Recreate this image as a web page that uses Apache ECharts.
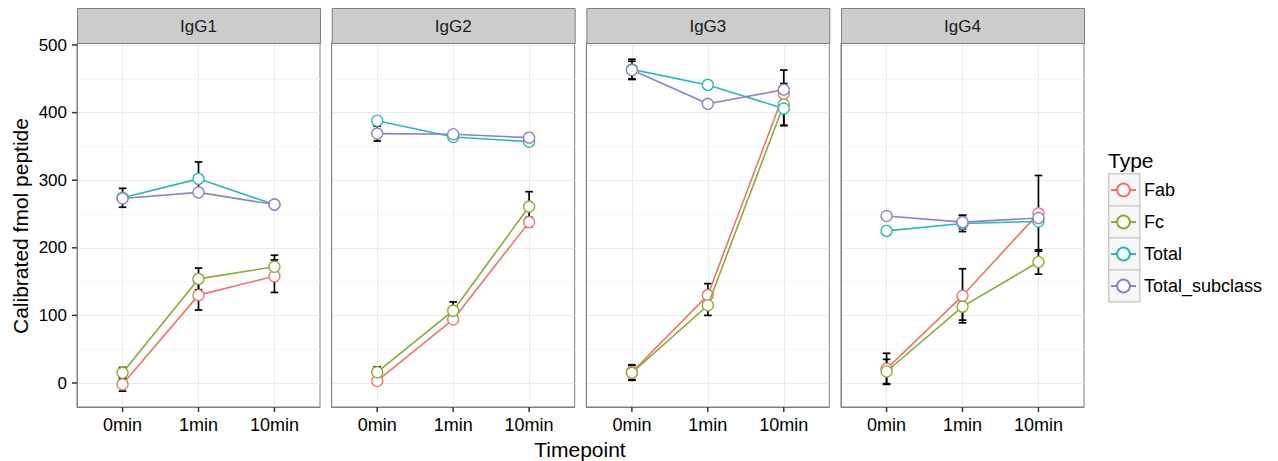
<!DOCTYPE html>
<html><head><meta charset="utf-8">
<script src="https://cdn.jsdelivr.net/npm/echarts@6/dist/echarts.min.js"></script>
<style>html,body{margin:0;padding:0;background:#fff}#c{width:1278px;height:461px}</style>
</head><body><div id="c"></div>
<script>
const panels = ['IgG1', 'IgG2', 'IgG3', 'IgG4'];
const timepoints = ['0min', '1min', '10min'];
const types = ['Fab', 'Fc', 'Total', 'Total_subclass'];
const yTicks = [0, 100, 200, 300, 400, 500];
const yMinorTicks = [50, 150, 250, 350, 450];

// values per panel (IgG1..IgG4), per timepoint (0min, 1min, 10min)
const fabValues = [[-2, 130, 158], [3, 94, 238], [16, 130, 428], [21, 129, 251]];
const fabErrors = [[10, 22, 24], [3, 3, 7], [11, 17, 10], [23, 40, 56]];
const fcValues = [[15, 154, 172], [16, 107, 261], [15, 115, 412], [17, 113, 179]];
const fcErrors = [[8, 16, 17], [8, 13, 22], [11, 15, 31], [18, 20, 18]];
const totalValues = [[274, 302, 264], [388, 364, 357], [464, 441, 406], [225, 236, 239]];
const totalErrors = [[14, 25, 2], [3, 3, 5], [15, 5, 25], [6, 12, 5]];
const subclassValues = [[273, 282, 264], [369, 368, 363], [463, 413, 434], [247, 238, 244]];
const subclassErrors = [[3, 3, 2], [11, 3, 6], [13, 3, 29], [3, 10, 4]];

const typeValues = [fabValues, fcValues, totalValues, subclassValues];
const typeErrors = [fabErrors, fcErrors, totalErrors, subclassErrors];
const typeColors = ['#EC756B', '#84AD35', '#2DB6BA', '#8D82C2'];

const FONT = '"Liberation Sans", Arial, Helvetica, sans-serif';
const panelLeft0 = 77, panelStep = 254.67, panelW = 243, panelTop = 43, panelH = 364;
const stripTop = 8, stripH = 35;
const yMin = -35.5, yMax = 503;
const xMin = 0.4, xMax = 3.6;
const xPos = timepoints.map((t, i) => i + 1);
const TICK = '#333333', TICK_LEN = 5;

const grids = [], xAxes = [], yAxes = [], series = [], graphics = [];

panels.forEach((p, pi) => {
  const left = panelLeft0 + pi * panelStep;
  grids.push({left: left, top: panelTop, width: panelW, height: panelH,
    show: true, borderColor: '#7f7f7f', borderWidth: 1, backgroundColor: '#fff'});
  xAxes.push({type: 'value', gridIndex: pi, min: xMin, max: xMax,
    axisLine: {show: true, onZero: false, lineStyle: {color: '#7f7f7f', width: 1}},
    axisTick: {show: false, customValues: xPos},
    axisLabel: {show: true, customValues: xPos, margin: 9, fontSize: 18, color: '#000', fontFamily: FONT,
      formatter: v => timepoints[Math.round(v) - 1] || ''},
    splitLine: {show: true, lineStyle: {color: '#ebebeb', width: 1}}
  });
  const yi = yAxes.length;
  yAxes.push({type: 'value', gridIndex: pi, min: yMin, max: yMax,
    axisLine: {show: true, onZero: false, lineStyle: {color: '#7f7f7f', width: 1}},
    axisTick: {show: false, customValues: yTicks},
    axisLabel: {show: pi === 0, customValues: yTicks, margin: 10, fontSize: 17, color: '#000', fontFamily: FONT},
    splitLine: {show: true, lineStyle: {color: '#ebebeb', width: 1}}
  });
  // minor grid lines (hidden axis)
  yAxes.push({type: 'value', gridIndex: pi, min: yMin, max: yMax, position: 'right',
    axisLine: {show: false, onZero: false},
    axisTick: {show: false, customValues: yMinorTicks},
    axisLabel: {show: false, customValues: yMinorTicks},
    splitLine: {show: true, lineStyle: {color: '#f5f5f5', width: 1}}
  });
  // facet strip
  graphics.push({type: 'rect', left: left, top: stripTop, z: 10,
    shape: {width: panelW, height: stripH},
    style: {fill: '#cccccc', stroke: '#7f7f7f', lineWidth: 1}});
  graphics.push({type: 'text', x: left + panelW / 2, y: stripTop + stripH / 2 + 1, z: 11,
    style: {text: p, font: '17px ' + FONT, fill: '#1a1a1a', align: 'center', verticalAlign: 'middle'}});

  // x axis ticks (custom series through the axis scale)
  series.push({type: 'custom', xAxisIndex: pi, yAxisIndex: yi, z: 20, silent: true, clip: false,
    data: xPos.map(x => [x, yMin]), encode: {x: 0, y: 1},
    renderItem: function (params, api) {
      const c = api.coord([api.value(0), api.value(1)]);
      return {type: 'line', shape: {x1: c[0], y1: c[1], x2: c[0], y2: c[1] + TICK_LEN},
        style: {stroke: TICK, lineWidth: 1.5}};
    }
  });
  // y axis ticks on first panel
  if (pi === 0) {
    series.push({type: 'custom', xAxisIndex: pi, yAxisIndex: yi, z: 20, silent: true, clip: false,
      data: yTicks.map(v => [xMin, v]), encode: {x: 0, y: 1},
      renderItem: function (params, api) {
        const c = api.coord([api.value(0), api.value(1)]);
        return {type: 'line', shape: {x1: c[0] - TICK_LEN, y1: c[1], x2: c[0], y2: c[1]},
          style: {stroke: TICK, lineWidth: 1.5}};
      }
    });
  }

  // error bars
  const errData = [];
  types.forEach((t, ti) => {
    typeValues[ti][pi].forEach((v, k) => errData.push([xPos[k], v, typeErrors[ti][pi][k]]));
  });
  series.push({type: 'custom', xAxisIndex: pi, yAxisIndex: yi, z: 1, silent: true,
    data: errData, encode: {x: 0, y: 1},
    renderItem: function (params, api) {
      const x = api.value(0), y = api.value(1), e = api.value(2);
      const lo = api.coord([x, y - e]), hi = api.coord([x, y + e]);
      const hw = api.size([0.1, 0])[0] / 2;
      const st = {stroke: '#000', lineWidth: 1.7};
      return {type: 'group', children: [
        {type: 'line', shape: {x1: lo[0], y1: lo[1], x2: hi[0], y2: hi[1]}, style: st},
        {type: 'line', shape: {x1: lo[0] - hw, y1: lo[1], x2: lo[0] + hw, y2: lo[1]}, style: st},
        {type: 'line', shape: {x1: hi[0] - hw, y1: hi[1], x2: hi[0] + hw, y2: hi[1]}, style: st}
      ]};
    }
  });

  types.forEach((t, ti) => {
    series.push({type: 'line', name: t, xAxisIndex: pi, yAxisIndex: yi, z: 3 + ti,
      data: typeValues[ti][pi].map((v, k) => [xPos[k], v]),
      symbol: 'circle', symbolSize: 11, showSymbol: true,
      lineStyle: {color: typeColors[ti], width: 1.6},
      itemStyle: {color: '#fff', borderColor: typeColors[ti], borderWidth: 1.3},
      emphasis: {disabled: true}, animation: false
    });
  });
});

// legend
const legendTop0 = 173, legendKeyH = 32;
graphics.push({type: 'text', x: 1108, y: 160, z: 11,
  style: {text: 'Type', font: '21px ' + FONT, fill: '#000', align: 'left', verticalAlign: 'middle'}});
const legends = types.map((t, ti) => {
  graphics.push({type: 'rect', left: 1108, top: legendTop0 + ti * legendKeyH, z: 1,
    shape: {width: 31, height: legendKeyH}, style: {fill: '#f7f7f7', stroke: '#cccccc', lineWidth: 1.5}});
  return {data: [t], left: 1110, top: legendTop0 + ti * legendKeyH + legendKeyH / 2 - 8, padding: 0,
    itemWidth: 25, itemHeight: 16, itemGap: 0, selectedMode: false, z: 5,
    textStyle: {fontSize: 18, color: '#000', fontFamily: FONT, padding: [0, 0, 0, 3]}};
});

// axis titles
graphics.push({type: 'text', x: 580, y: 449, z: 11,
  style: {text: 'Timepoint', font: '21px ' + FONT, fill: '#000', align: 'center', verticalAlign: 'middle'}});
graphics.push({type: 'text', x: 20, y: 226, rotation: Math.PI / 2, z: 11,
  style: {text: 'Calibrated fmol peptide', font: '21px ' + FONT, fill: '#000', align: 'center', verticalAlign: 'middle'}});

const chart = echarts.init(document.getElementById('c'), null, {renderer: 'svg'});
chart.setOption({
  animation: false,
  backgroundColor: '#fff',
  grid: grids, xAxis: xAxes, yAxis: yAxes, series: series,
  legend: legends,
  graphic: graphics
});
</script></body></html>
